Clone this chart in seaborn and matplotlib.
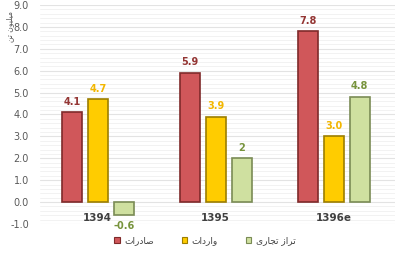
import numpy as np
import pandas as pd
import matplotlib
matplotlib.use("Agg")
import matplotlib.pyplot as plt
from matplotlib.patches import Patch
from matplotlib.ticker import MultipleLocator
import seaborn as sns

# ---- data ----
years = ["1394", "1395", "1396e"]
series = ["صادرات", "واردات", "تراز تجاری"]
exports = [4.1, 5.9, 7.8]
imports = [4.7, 3.9, 3.0]
balance = [-0.6, 2.0, 4.8]
exports_labels = ["4.1", "5.9", "7.8"]
imports_labels = ["4.7", "3.9", "3.0"]
balance_labels = ["-0.6", "2", "4.8"]
y_title = "میلیون تن"
y_ticks = [-1.0, 0.0, 1.0, 2.0, 3.0, 4.0, 5.0, 6.0, 7.0, 8.0, 9.0]

# ---- minimal Arabic/Persian shaping for display ----
_forms = {
    "\u0627": ("\uFE8D", "\uFE8E", None, None),
    "\u062F": ("\uFEA9", "\uFEAA", None, None),
    "\u0631": ("\uFEAD", "\uFEAE", None, None),
    "\u0632": ("\uFEAF", "\uFEB0", None, None),
    "\u0648": ("\uFEED", "\uFEEE", None, None),
    "\u0635": ("\uFEB9", "\uFEBA", "\uFEBB", "\uFEBC"),
    "\u062A": ("\uFE95", "\uFE96", "\uFE97", "\uFE98"),
    "\u062C": ("\uFE9D", "\uFE9E", "\uFE9F", "\uFEA0"),
    "\u06CC": ("\uFBFC", "\uFBFD", "\uFBFE", "\uFBFF"),
    "\u0645": ("\uFEE1", "\uFEE2", "\uFEE3", "\uFEE4"),
    "\u0644": ("\uFEDD", "\uFEDE", "\uFEDF", "\uFEE0"),
    "\u0646": ("\uFEE5", "\uFEE6", "\uFEE7", "\uFEE8"),
}


def shape(text):
    out = []
    n = len(text)
    for i, ch in enumerate(text):
        if ch not in _forms:
            out.append(ch)
            continue
        f = _forms[ch]
        prev = text[i - 1] if i > 0 else None
        nxt = text[i + 1] if i + 1 < n else None
        jp = prev in _forms and _forms[prev][2] is not None
        jn = f[2] is not None and nxt in _forms
        if jp and jn:
            out.append(f[3])
        elif jp:
            out.append(f[1])
        elif jn:
            out.append(f[2])
        else:
            out.append(f[0])
    return "".join(out)[::-1]


df = pd.DataFrame({
    "year": years * 3,
    "series": [series[0]] * 3 + [series[1]] * 3 + [series[2]] * 3,
    "value": exports + imports + balance,
})

fills = ["#D0575A", "#FFCC00", "#CFE0A0"]
edges = ["#7F2A2A", "#9C7E00", "#7A8B55"]
label_colors = ["#943634", "#F2B600", "#77933C"]

sns.set_theme(style="white")
plt.rcParams["font.family"] = ["DejaVu Sans"]

fig = plt.figure(figsize=(4.06, 2.54), dpi=100)
ax = fig.add_axes([40 / 406, 1 - 224 / 254, 355 / 406, 219 / 254])

sns.barplot(data=df, x="year", y="value", hue="series", hue_order=series,
            order=years, palette=fills, width=0.66, gap=0.23, ax=ax,
            legend=False, saturation=1, errorbar=None)

for cont, ec, lc, labs in zip(ax.containers, edges, label_colors,
                              [exports_labels, imports_labels, balance_labels]):
    for p in cont:
        p.set_edgecolor(ec)
        p.set_linewidth(1.2)
    ax.bar_label(cont, labels=labs, padding=4, color=lc, fontsize=7,
                 fontweight="bold")

ax.set_ylim(-1, 9)
ax.set_xlim(-0.49, 2.52)
ax.set_yticks(y_ticks)
ax.set_yticklabels([f"{v:.1f}" for v in y_ticks])
ax.yaxis.set_minor_locator(MultipleLocator(0.2))
ax.grid(axis="y", which="major", color="#E3E3E3", linewidth=0.8)
ax.grid(axis="y", which="minor", color="#F0F0F0", linewidth=0.6)
ax.set_axisbelow(True)
for s in ["left", "right", "top", "bottom"]:
    ax.spines[s].set_visible(False)
ax.tick_params(axis="y", length=0, pad=8, labelsize=7, labelcolor="#595959")
ax.tick_params(axis="x", length=0, labelbottom=False)
ax.set_xlabel("")
ax.set_ylabel("")

# category labels placed just under the zero line (Excel "next to axis")
for i, yr in enumerate(years):
    ax.annotate(yr, xy=(i, 0), xytext=(0, -11.5), textcoords="offset points",
                ha="center", va="center", fontsize=7.5, fontweight="bold",
                color="#404040", zorder=5)

fig.text(10 / 406, 1 - 27 / 254, shape(y_title), rotation=90, fontsize=5.5,
         color="#595959", ha="center", va="center")

handles = [Patch(facecolor=f, edgecolor=e, linewidth=0.8) for f, e in zip(fills, edges)]
fig.legend(handles, [shape(s) for s in series], loc="center",
           bbox_to_anchor=(205 / 406, 1 - 241 / 254), ncol=3, frameon=False,
           fontsize=6.5, handlelength=0.6, handleheight=0.6, handletextpad=0.5,
           columnspacing=3.1, labelcolor="#404040")

fig.savefig("out.png", dpi=100)
